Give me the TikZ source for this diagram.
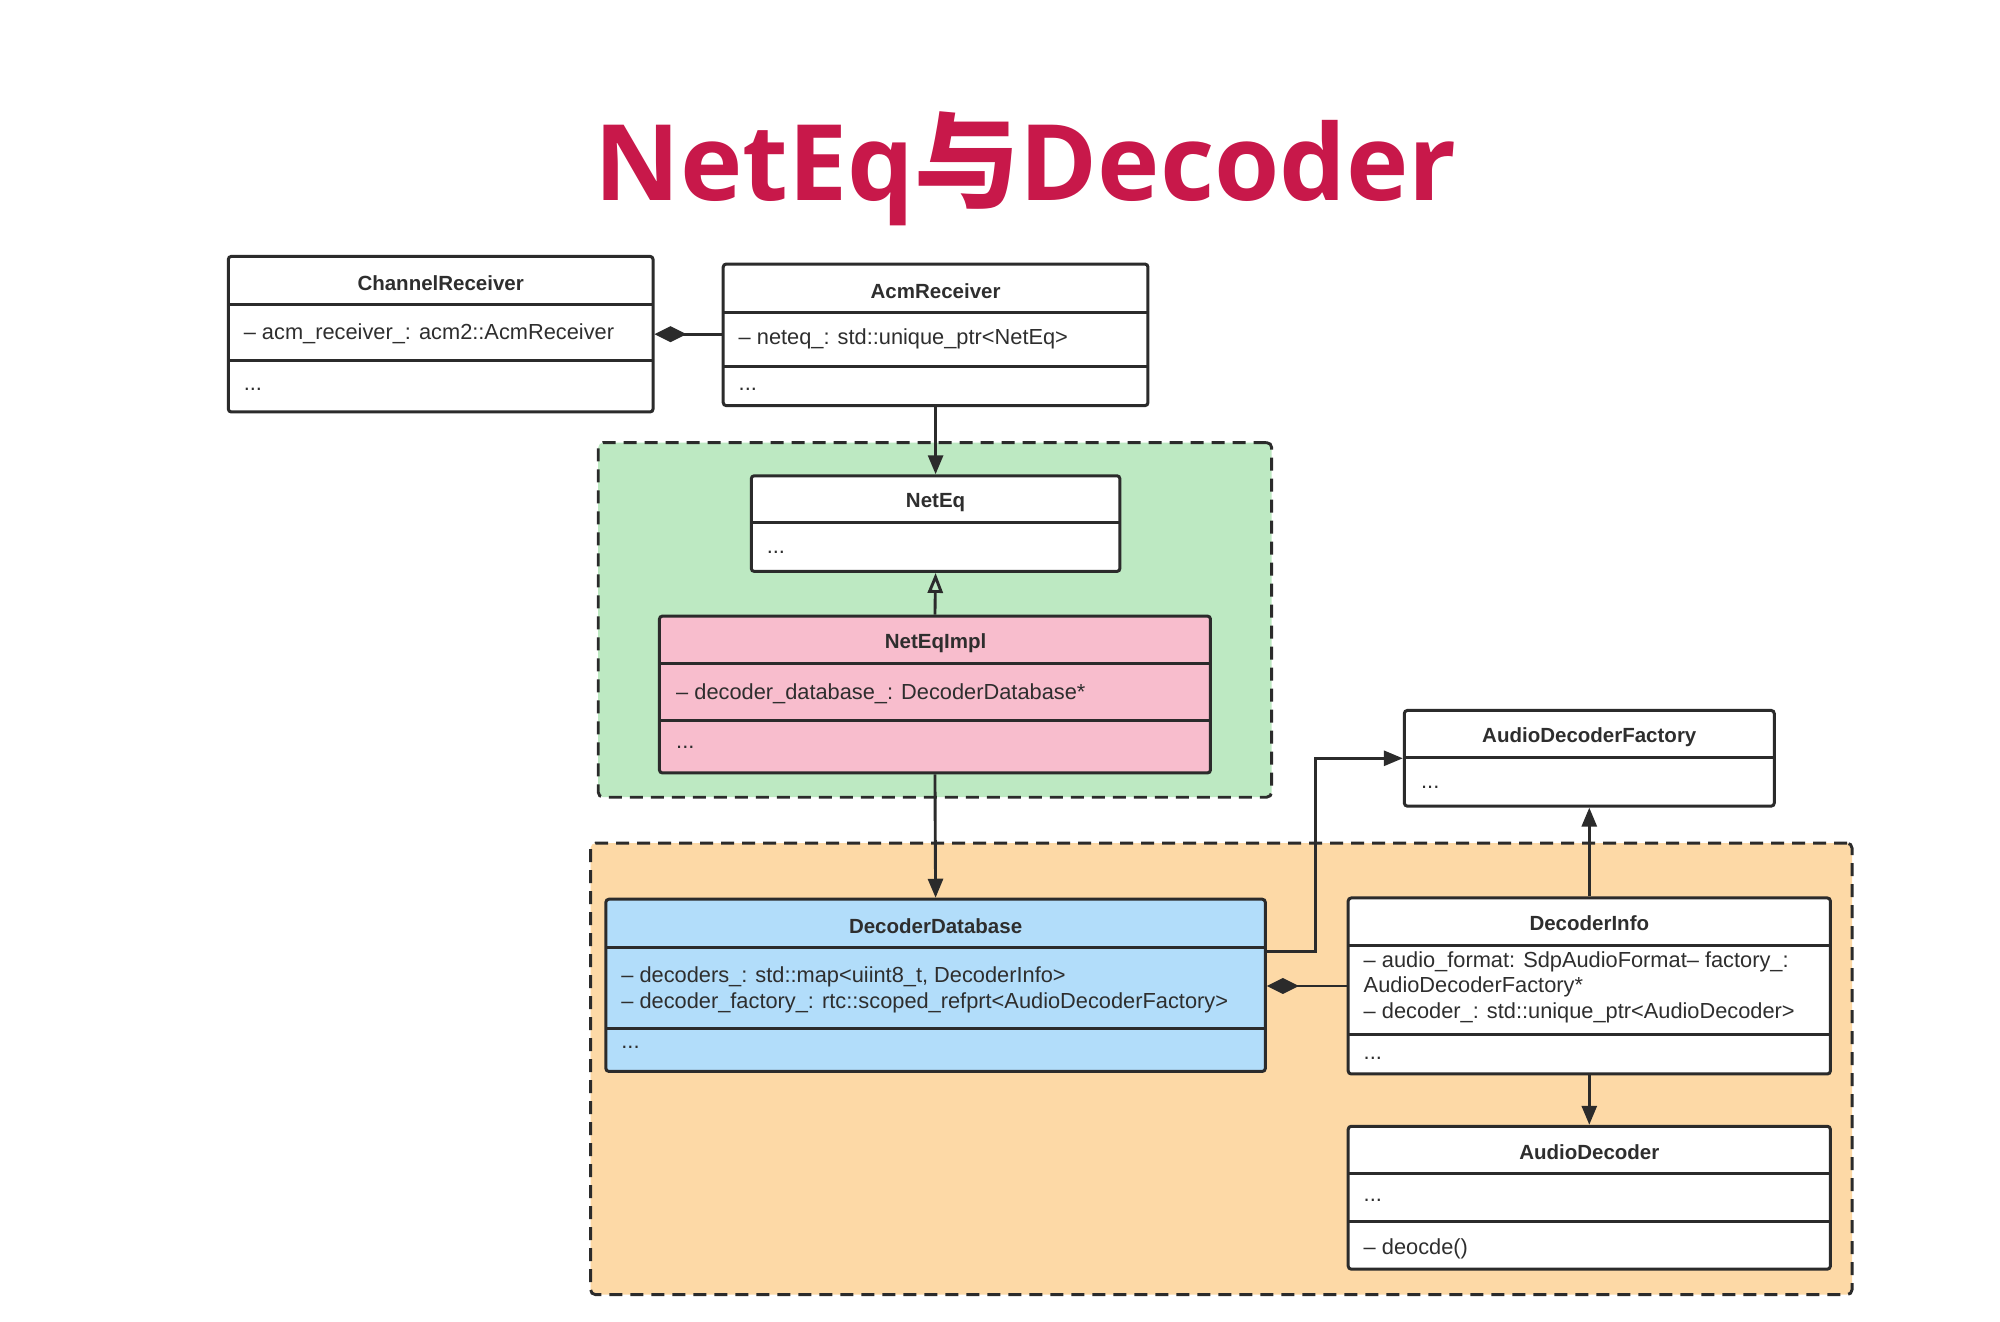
\documentclass[tikz,border=0pt]{standalone}
\usepackage{fontspec}
\setmainfont{Liberation Sans}
\newfontfamily\titlefont{Open Sans}
\newfontfamily\cjkfont{Noto Sans CJK SC}
\usetikzlibrary{arrows.meta,fit}
\definecolor{ttl}{HTML}{C8184A}
\definecolor{lnc}{HTML}{2B2B2B}
\definecolor{txt}{HTML}{2E2E2E}
\definecolor{greenbg}{HTML}{BDE9C2}
\definecolor{orangebg}{HTML}{FDD9A6}
\definecolor{pinkbg}{HTML}{F8BDCD}
\definecolor{bluebg}{HTML}{B2DDFA}
\begin{document}
\begin{tikzpicture}[x=1.2755pt,y=-1.2755pt,
  cls/.style={draw=lnc, line width=3pt, rounded corners=3pt, inner sep=0pt, fill=white},
  region/.style={draw=lnc, line width=2.9pt, dash pattern=on 13pt off 8pt, rounded corners=5pt, inner sep=0pt},
  divl/.style={draw=lnc, line width=3pt},
  hdr/.style={font=\bfseries\fontsize{20.5}{24}\selectfont, text=txt, inner sep=0pt},
  attr/.style={font=\fontsize{21.8}{25}\selectfont, text=txt, anchor=west, inner sep=0pt},
  arr/.style={draw=lnc, line width=2.9pt, -{Triangle[length=19pt,width=15pt]}},
  inh/.style={draw=lnc, line width=2.9pt, -{Triangle[open,length=20pt,width=15pt]}},
  comp/.style={draw=lnc, line width=2.9pt, -{Diamond[length=32pt,width=16pt]}}
]
\useasboundingbox[fill=white] (0,0) rectangle (1568,1036);

% title
\node[anchor=base, text=ttl, inner sep=0pt] (title) at (804,157)
  {\resizebox{862pt}{!}{\titlefont\bfseries NetEq{\cjkfont\bfseries 与}Decoder}};

% regions
\node[region, fill=greenbg, fit={(469,347) (997,625)}] (greenreg) {};
\node[region, fill=orangebg, fit={(463,661) (1452,1015)}] (orangereg) {};

% ChannelReceiver
\node[cls, fit={(179,201) (512,323)}] (cr) {};
\draw[divl] (179,239) -- (512,239);
\draw[divl] (179,283) -- (512,283);
\node[hdr] (crH) at (345.5,222) {ChannelReceiver};
\node[attr] (crA) at (191,262) {– acm\_receiver\_: acm2::AcmReceiver};
\node[attr] (crM) at (191,305) {...};

% AcmReceiver
\node[cls, fit={(567,207) (900,318)}] (acm) {};
\draw[divl] (567,245) -- (900,245);
\draw[divl] (567,287) -- (900,287);
\node[hdr] (acmH) at (733.5,228) {AcmReceiver};
\node[attr] (acmA) at (579,266) {– neteq\_: std::unique\_ptr<NetEq>};
\node[attr] (acmM) at (579,305) {...};

% NetEq
\node[cls, fit={(589,373) (878,448)}] (neteq) {};
\draw[divl] (589,410) -- (878,410);
\node[hdr] (neteqH) at (733.5,394) {NetEq};
\node[attr] (neteqM) at (601,433) {...};

% NetEqImpl
\node[cls, fill=pinkbg, fit={(517,483) (949,606)}] (impl) {};
\draw[divl] (517,520) -- (949,520);
\draw[divl] (517,565) -- (949,565);
\node[hdr] (implH) at (733.5,504) {NetEqImpl};
\node[attr] (implA) at (530,544) {– decoder\_database\_: DecoderDatabase*};
\node[attr] (implM) at (530,586) {...};

% AudioDecoderFactory
\node[cls, fit={(1101,557) (1391,632)}] (adf) {};
\draw[divl] (1101,594) -- (1391,594);
\node[hdr] (adfH) at (1246,578) {AudioDecoderFactory};
\node[attr] (adfM) at (1114,617) {...};

% DecoderDatabase
\node[cls, fill=bluebg, fit={(475,705) (992,840)}] (db) {};
\draw[divl] (475,743) -- (992,743);
\draw[divl] (475,806) -- (992,806);
\node[hdr] (dbH) at (733.5,726) {DecoderDatabase};
\node[attr] (dbA1) at (487,766) {– decoders\_: std::map<uiint8\_t, DecoderInfo>};
\node[attr] (dbA2) at (487,786) {– decoder\_factory\_: rtc::scoped\_refprt<AudioDecoderFactory>};
\node[attr] (dbM) at (487,821) {...};

% DecoderInfo
\node[cls, fit={(1057,704) (1435,842)}] (info) {};
\draw[divl] (1057,741) -- (1435,741);
\draw[divl] (1057,811) -- (1435,811);
\node[hdr] (infoH) at (1246,724) {DecoderInfo};
\node[attr] (infoA1) at (1069,754) {– audio\_format: SdpAudioFormat– factory\_:};
\node[attr] (infoA2) at (1069,774) {AudioDecoderFactory*};
\node[attr] (infoA3) at (1069,794) {– decoder\_: std::unique\_ptr<AudioDecoder>};
\node[attr] (infoM) at (1069,830) {...};

% AudioDecoder
\node[cls, fit={(1057,883) (1435,995)}] (dec) {};
\draw[divl] (1057,920) -- (1435,920);
\draw[divl] (1057,958) -- (1435,958);
\node[hdr] (decH) at (1246,903) {AudioDecoder};
\node[attr] (decM) at (1069,941) {...};
\node[attr] (decA) at (1069,979) {– deocde()};

% connectors
\coordinate (c1) at (0,262);
\draw[comp] (acm.west |- c1) -- (cr.east |- c1);
\draw[arr] (acm.south) -- (neteq.north);
\draw[inh] (impl.north) -- (neteq.south);
\draw[arr] (impl.south) -- (db.north);
\coordinate (c2) at (0,773);
\draw[comp] (info.west |- c2) -- (db.east |- c2);
\coordinate (bend) at (1031,746);
\draw[arr] (db.east |- bend) -- (bend) |- (adf.west);
\draw[arr] (info.north) -- (adf.south);
\draw[arr] (info.south) -- (dec.north);
\end{tikzpicture}
\end{document}
